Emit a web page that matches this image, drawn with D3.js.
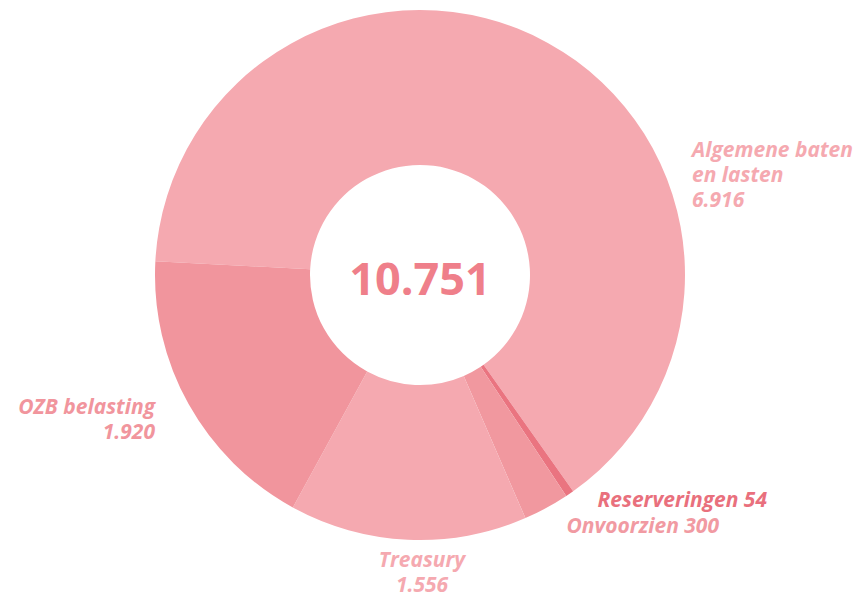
<!DOCTYPE html>
<html>
<head>
<meta charset="utf-8">
<script src="https://cdn.jsdelivr.net/npm/d3@7"></script>
<style>
    body { margin: 0; background: #fff; }
    svg text { font-family: "Open Sans", sans-serif; }
    .label { font-style: italic; font-weight: 700; font-size: 21px; }
    .total { font-weight: 700; font-size: 45px; }
</style>
</head>
<body>
<div id="chart"></div>
<script>
// data (bedragen in miljoenen)
const categories = ['Algemene baten en lasten', 'Reserveringen', 'Onvoorzien', 'Treasury', 'OZB belasting'];
const values = [6916, 54, 300, 1556, 1920];
const valueLabels = ['6.916', '54', '300', '1.556', '1.920'];
const totalLabel = '10.751';

const width = 868, height = 600;
const cx = 420, cy = 275;
const outerR = 265, innerR = 110;

const sliceColors = ['#f5a9b0', '#ea7480', '#f1989f', '#f5a9b0', '#f1959d'];
const textColors = ['#f5a9b0', '#e9707d', '#f19aa2', '#f5a9b0', '#f1959d'];

// where each label goes (relative to chart centre), lines and anchor
const labelLayout = [
    {dx: 272, dy: -118, anchor: 'start', lines: ['Algemene baten', 'en lasten', valueLabels[0]]},
    {dx: 347, dy: 232, anchor: 'end', lines: ['Reserveringen ' + valueLabels[1]]},
    {dx: 299, dy: 258, anchor: 'end', lines: ['Onvoorzien ' + valueLabels[2]]},
    {dx: 2, dy: 292, anchor: 'middle', lines: ['Treasury', valueLabels[3]]},
    {dx: -265, dy: 139, anchor: 'end', lines: ['OZB belasting', valueLabels[4]]}
];

const svg = d3.select('#chart').append('svg')
    .attr('width', width)
    .attr('height', height);

const g = svg.append('g')
    .attr('transform', `translate(${cx},${cy})`);

const start = -87 * Math.PI / 180;
const pie = d3.pie()
    .sort(null)
    .value(d => d)
    .startAngle(start)
    .endAngle(start + 2 * Math.PI);

const arc = d3.arc()
    .innerRadius(innerR)
    .outerRadius(outerR);

g.selectAll('path.slice')
    .data(pie(values))
    .join('path')
    .classed('slice', true)
    .attr('d', arc)
    .attr('fill', (d, i) => sliceColors[i]);

// labels
const labels = g.selectAll('text.label')
    .data(labelLayout)
    .join('text')
    .classed('label', true)
    .attr('fill', (d, i) => textColors[i])
    .attr('text-anchor', d => d.anchor);

labels.selectAll('tspan')
    .data(d => d.lines.map(l => ({l, d})))
    .join('tspan')
    .attr('x', t => t.d.dx)
    .attr('y', (t, i) => t.d.dy + i * 25)
    .text(t => t.l);

// total in the middle
g.append('text')
    .classed('total', true)
    .attr('text-anchor', 'middle')
    .attr('y', 20)
    .attr('fill', '#ef7f8a')
    .text(totalLabel);
</script>
</body>
</html>
